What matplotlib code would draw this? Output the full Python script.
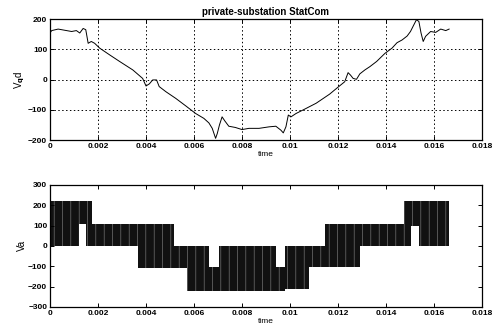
import matplotlib
matplotlib.use("Agg")
import matplotlib.pyplot as plt

plt.rcParams['font.family'] = ['Liberation Sans', 'DejaVu Sans']
plt.rcParams['font.weight'] = 'bold'
plt.rcParams['hatch.linewidth'] = 0.4

# top panel: dq voltage trace
t_top = [0, 0.00007, 0.00034, 0.00069, 0.0009, 0.0011, 0.00124, 0.00138, 0.00149,
         0.00159, 0.00172, 0.00186, 0.00207, 0.00248, 0.0029, 0.00345, 0.00386,
         0.004, 0.00414, 0.00428, 0.00444, 0.00455, 0.00483, 0.00524, 0.00566,
         0.00607, 0.00641, 0.00662, 0.00676, 0.0069, 0.00697, 0.00706, 0.00717,
         0.00728, 0.00745, 0.00772, 0.008, 0.00829, 0.00871, 0.00913, 0.00941,
         0.00962, 0.00972, 0.00983, 0.00993, 0.01004, 0.01025, 0.0106, 0.01109,
         0.01165, 0.012, 0.01228, 0.01242, 0.01252, 0.01263, 0.01277, 0.01291,
         0.01312, 0.01333, 0.01361, 0.01396, 0.01425, 0.01446, 0.01467, 0.01488,
         0.01502, 0.01516, 0.01527, 0.01537, 0.01546, 0.01555, 0.01565, 0.01586,
         0.01607, 0.01628, 0.01649, 0.01663]
v_qd = [154, 162, 167, 162, 159, 162, 154, 169, 165,
        120, 126, 120, 104, 82, 60, 32, 4,
        -21, -14, -1, -1, -23, -40, -62, -87,
        -112, -128, -143, -161, -194, -178, -150, -123,
        -136, -154, -158, -165, -161, -161, -156, -154,
        -167, -176, -156, -117, -123, -112, -98, -78,
        -48, -25, -7, 23, 15, 4, 1, 19,
        32, 43, 60, 87, 104, 122, 131, 144,
        159, 181, 198, 192, 154, 126, 143, 159,
        156, 167, 162, 167]

# bottom panel: switching envelope per segment (start, low, high)
seg_start = [0, 0.00122, 0.00148, 0.00177, 0.00366, 0.00517, 0.00572, 0.00662,
             0.00703, 0.00941, 0.0098, 0.01078, 0.01144, 0.01291, 0.01476,
             0.01504, 0.01537, 0.01663]
seg_low = [0, 110, 0, 0, -110, -110, -220, -220, -220, -220, -210, -105,
           -105, 0, 0, 100, 0, 0]
seg_high = [220, 220, 220, 110, 110, 0, 0, -105, 0, -105, 0, 0,
            110, 110, 220, 220, 220, 220]

fig = plt.figure(figsize=(5, 3.29), dpi=100)
ax1 = fig.add_axes([0.1, 0.574, 0.864, 0.368])
ax2 = fig.add_axes([0.1, 0.067, 0.864, 0.371])

ax1.plot(t_top, v_qd, color='black', lw=0.7)
ax1.set_xlim(0, 0.018)
ax1.set_ylim(-200, 200)
ax1.set_yticks([-200, -100, 0, 100, 200])
ax1.grid(True, color='black', linestyle=(0, (1.5, 2.5)), lw=0.7)
ax1.set_title('private-substation StatCom', fontsize=7, fontweight='bold', pad=3)
ax1.set_ylabel('V$_\\mathbf{q}$d', fontsize=7, labelpad=1)
ax1.set_xlabel('time', fontsize=6, labelpad=1)

ax2.fill_between(seg_start, seg_low, seg_high, step='post', facecolor='#111111',
                 edgecolor='#8a8a8a', hatch='||', linewidth=0)
ax2.set_xlim(0, 0.018)
ax2.set_ylim(-300, 300)
ax2.set_yticks([-300, -200, -100, 0, 100, 200, 300])
ax2.set_ylabel('Va', fontsize=7, labelpad=1)
ax2.set_xlabel('time', fontsize=6, labelpad=1)

for ax in (ax1, ax2):
    ax.set_xticks([0, 0.002, 0.004, 0.006, 0.008, 0.01, 0.012, 0.014, 0.016, 0.018])
    ax.set_xticklabels(['0', '0.002', '0.004', '0.006', '0.008', '0.01', '0.012',
                        '0.014', '0.016', '0.018'])
    ax.tick_params(direction='in', top=True, right=True, labelsize=6, length=3,
                   pad=2, width=0.7)
    for s in ax.spines.values():
        s.set_linewidth(0.9)

fig.savefig('out.png', dpi=100)
